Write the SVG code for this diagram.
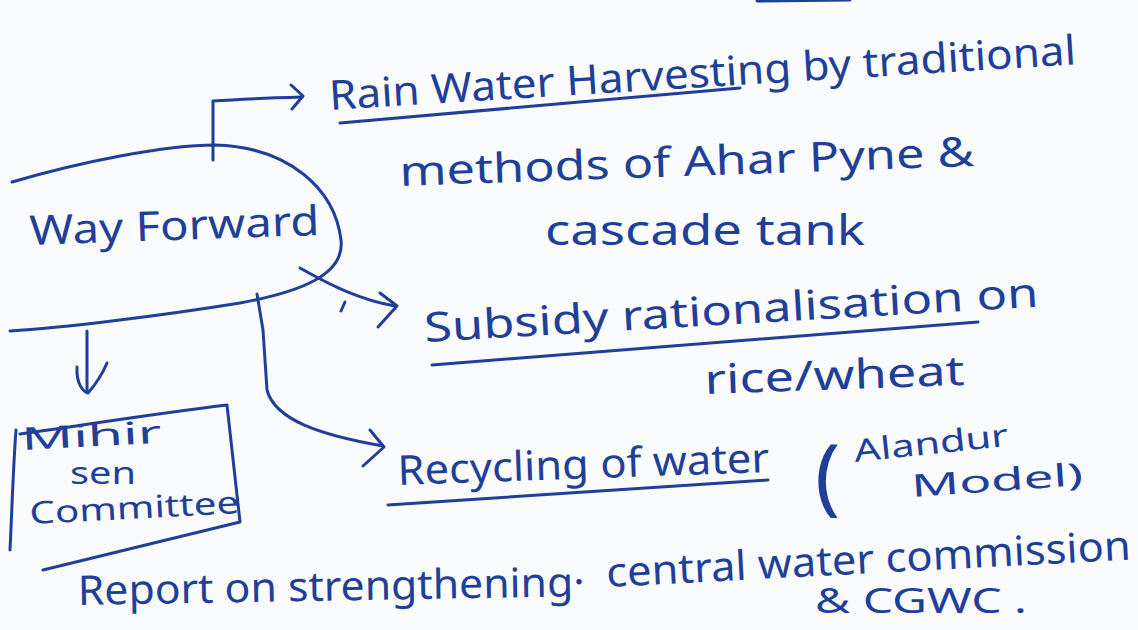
<svg xmlns="http://www.w3.org/2000/svg" width="1138" height="630" viewBox="0 0 1138 630">
  <style>
    .ink { fill: none; stroke: #1f3f98; stroke-width: 3; stroke-linecap: round; stroke-linejoin: round; }
    .hand { font-family: "Noto Sans", "Liberation Sans", sans-serif; fill: #1f3f98; }
    .big { font-size: 41px; }
    .mid { font-size: 35px; }
    .small { font-size: 31px; }
  </style>
  <rect width="1138" height="630" fill="#fafbfc"/>

  <!-- edge of the previous line on the page -->
  <path class="ink" d="M757,1 L850,0" stroke-width="3"/>

  <!-- central topic -->
  <g id="way-forward">
    <path class="ink" d="M12,182 C80,162 165,145 215,145 C290,147 335,190 341,240 C345,275 300,292 240,303 C160,316 60,328 10,331"/>
    <text class="hand big" x="30" y="245" textLength="290" lengthAdjust="spacingAndGlyphs" transform="rotate(-2 30 245)">Way Forward</text>
  </g>

  <!-- branches -->
  <g id="connectors">
    <!-- to rain water harvesting -->
    <path class="ink" d="M213,160 L213,101 C240,99 270,98 302,97"/>
    <path class="ink" d="M291,85 L303,96 L292,109"/>
    <!-- to subsidy rationalisation -->
    <path class="ink" d="M300,268 C330,285 360,300 395,306"/>
    <path class="ink" d="M380,293 L397,306 L378,327"/>
    <path class="ink" d="M341,311 L345,302"/>
    <!-- to recycling of water -->
    <path class="ink" d="M257,294 L263,330 L267,390 C275,420 320,435 383,446"/>
    <path class="ink" d="M370,430 L384,447 L363,466"/>
    <!-- down to committee -->
    <path class="ink" d="M87,331 L87,392"/>
    <path class="ink" d="M77,367 C76,385 84,392 88,393 C95,385 102,375 107,363"/>
  </g>

  <g id="mihir-sen">
    <path class="ink" d="M16,430 C13,470 12,510 10,550"/>
    <path class="ink" d="M20,434 C90,424 160,413 227,405 L240,522 L43,570"/>
    <text class="hand small" x="22" y="450" textLength="140" lengthAdjust="spacingAndGlyphs" transform="rotate(-3 22 450)">Mihir</text>
    <text class="hand small" x="70" y="484" textLength="66" lengthAdjust="spacingAndGlyphs">sen</text>
    <text class="hand small" x="30" y="524" textLength="210" lengthAdjust="spacingAndGlyphs" transform="rotate(-3 30 524)">Committee</text>
  </g>

  <g id="rain-water">
    <text class="hand big" x="330" y="110" textLength="748" lengthAdjust="spacingAndGlyphs" transform="rotate(-3.5 330 110)">Rain Water Harvesting by traditional</text>
    <path class="ink" d="M340,123 L740,88"/>
    <text class="hand big" x="400" y="186" textLength="575" lengthAdjust="spacingAndGlyphs" transform="rotate(-2 400 186)">methods of Ahar Pyne &amp;</text>
    <text class="hand big" x="545" y="245" textLength="320" lengthAdjust="spacingAndGlyphs">cascade tank</text>
  </g>

  <g id="subsidy">
    <text class="hand big" x="425" y="342" textLength="615" lengthAdjust="spacingAndGlyphs" transform="rotate(-3.3 425 342)">Subsidy rationalisation on</text>
    <path class="ink" d="M432,365 L978,322"/>
    <text class="hand big" x="705" y="394" textLength="260" lengthAdjust="spacingAndGlyphs" transform="rotate(-2 705 394)">rice/wheat</text>
  </g>

  <g id="recycling">
    <text class="hand big" x="398" y="485" textLength="372" lengthAdjust="spacingAndGlyphs" transform="rotate(-2 398 485)">Recycling of water</text>
    <path class="ink" d="M388,505 L768,480"/>
    <text class="hand" font-size="84" x="815" y="505">(</text>
    <text class="hand small" x="855" y="462" textLength="155" lengthAdjust="spacingAndGlyphs" transform="rotate(-6 855 462)">Alandur</text>
    <text class="hand small" x="912" y="497" textLength="172" lengthAdjust="spacingAndGlyphs" transform="rotate(-4 912 497)">Model)</text>
  </g>

  <g id="report">
    <text class="hand big" x="78" y="605" textLength="507" lengthAdjust="spacingAndGlyphs" transform="rotate(-1 78 605)">Report on strengthening·</text>
    <text class="hand big" x="607" y="587" textLength="525" lengthAdjust="spacingAndGlyphs" transform="rotate(-3 607 587)">central water commission</text>
    <text class="hand mid" x="815" y="613" textLength="212" lengthAdjust="spacingAndGlyphs">&amp; CGWC .</text>
  </g>
</svg>
